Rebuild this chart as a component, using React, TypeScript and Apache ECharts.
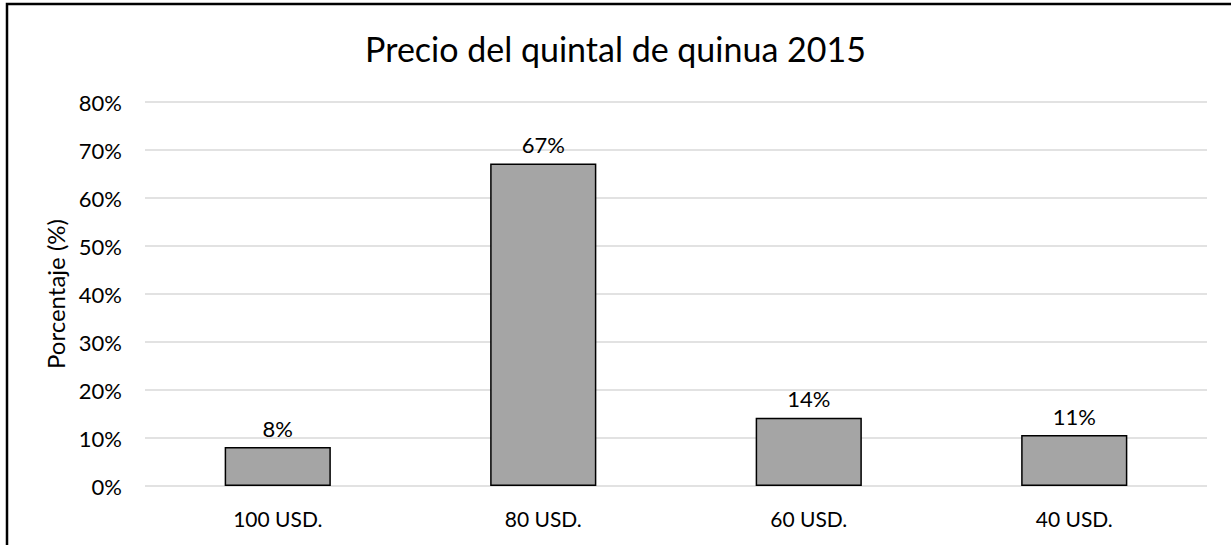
import React, { useEffect, useRef } from "react";
import * as echarts from "echarts";

const categories = ["100 USD.", "80 USD.", "60 USD.", "40 USD."];
const values = [8.1, 67.2, 14.2, 10.6];
const valueLabels = ["8%", "67%", "14%", "11%"];
const titleText = "Precio del quintal de quinua 2015";
const yAxisName = "Porcentaje (%)";

const FONT = "Lato, 'Open Sans', sans-serif";

export default function App() {
  const ref = useRef<HTMLDivElement>(null);
  useEffect(() => {
    if (!ref.current) return;
    const chart = echarts.init(ref.current, undefined, { renderer: "svg" });
    chart.setOption({
      animation: false,
      backgroundColor: "#ffffff",
      textStyle: { fontFamily: FONT },
      title: {
        text: titleText,
        left: "center",
        top: 26,
        textStyle: { fontFamily: FONT, fontSize: 34, fontWeight: "normal", color: "#000000" },
      },
      graphic: [
        {
          type: "rect",
          shape: { x: 7, y: 4, width: 1260, height: 600 },
          style: { fill: "none", stroke: "#000000", lineWidth: 2.5 },
          silent: true,
        },
      ],
      grid: { left: 145, right: 24, top: 102, bottom: 59, containLabel: false },
      xAxis: {
        type: "category",
        data: categories,
        axisLine: { show: false },
        axisTick: { show: false },
        axisLabel: { color: "#000000", fontSize: 21, margin: 22, fontFamily: FONT },
      },
      yAxis: {
        type: "value",
        min: 0,
        max: 80,
        interval: 10,
        name: yAxisName,
        nameLocation: "middle",
        nameGap: 75,
        nameRotate: 90,
        nameTextStyle: { color: "#000000", fontSize: 24, fontFamily: FONT },
        axisLine: { show: false },
        axisTick: { show: false },
        axisLabel: { color: "#000000", fontSize: 22, margin: 23, formatter: "{value}%", fontFamily: FONT },
        splitLine: { lineStyle: { color: "#d9d9d9", width: 1.5 } },
      },
      series: [
        {
          type: "bar",
          data: values,
          barWidth: "40%",
          itemStyle: { color: "#a5a5a5", borderColor: "#000000", borderWidth: 1.5 },
          label: {
            show: true,
            position: "top",
            distance: 8,
            color: "#000000",
            fontSize: 22,
            fontFamily: FONT,
            formatter: (p: any) => valueLabels[p.dataIndex],
          },
        },
      ],
    });
    return () => chart.dispose();
  }, []);
  return (
    <div
      ref={ref}
      style={{ position: "fixed", left: 0, top: 0, width: 1231, height: 545 }}
    />
  );
}
